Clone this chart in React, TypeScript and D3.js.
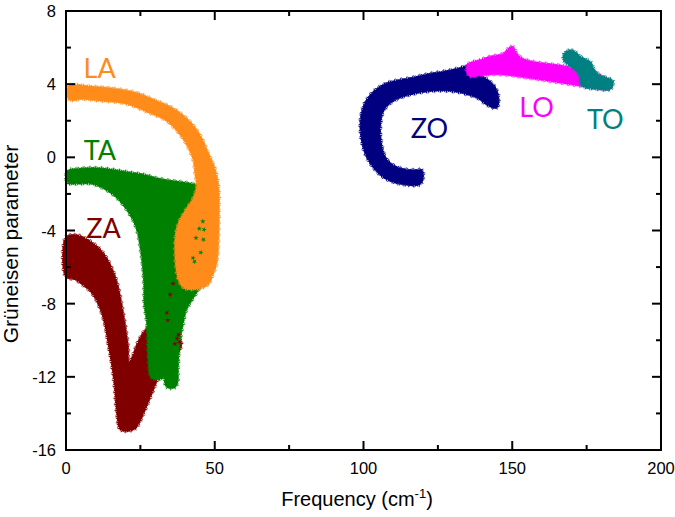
import React, { useEffect, useRef } from "react";
import * as d3 from "d3";

type P = [number, number];

// Branch outlines: [frequency (cm^-1), Grüneisen parameter]
const zaBranch: P[] = [
  [0.3, -4.4], [3, -4.3], [4.7, -4.36], [7.5, -4.6], [10.4, -4.95], [12.8, -5.4], [14.8, -6.0],
  [16.5, -6.7], [17.8, -7.6], [18.8, -8.5], [19.8, -9.5], [20.5, -10.4], [20.8, -11.3], [21.8, -11.2],
  [24.9, -10.0], [27.6, -9.4], [30, -9.4], [34, -9.7], [37, -9.8], [38.4, -10.1], [37.5, -10.6],
  [35, -10.7], [32, -11.3], [30.6, -12.0], [27.2, -13.4], [23.5, -14.7], [22.2, -14.85], [18.6, -14.85],
  [17.5, -14.0], [16.5, -12.2], [14.8, -10.4], [12.4, -8.5], [9.1, -7.4], [5.7, -6.9], [3, -6.6], [0.3, -6.5],
];
const taBranch: P[] = [
  [0.7, -0.8], [3.7, -0.69], [11.4, -0.65], [20.5, -0.86], [26, -1.0], [31.6, -1.24], [38.3, -1.4],
  [42, -1.5], [46, -1.68], [47, -3], [47, -6], [46, -6.7], [44, -7.25], [41.5, -7.9], [40, -8.35],
  [39, -9.06], [37.9, -10.0], [37.6, -10.4], [37.3, -11.46], [36.6, -12.5], [34, -12.5], [33.3, -11.6],
  [32.6, -12.0], [29, -12.0], [28.2, -11.25], [27.6, -9.06], [26.7, -8.0], [26.6, -6.9], [25.5, -5.07],
  [23.9, -3.8], [20.5, -2.77], [15.8, -1.95], [9.1, -1.4], [4, -1.38], [0.7, -1.35],
];
const laBranch: P[] = [
  [1.3, 3.85], [8, 3.82], [16, 3.7], [24, 3.45], [30, 3.05], [35, 2.7], [38.3, 2.35], [42, 1.8],
  [45, 1.1], [47.5, 0.2], [49.4, -0.5], [50.6, -1.3], [51, -2.0], [51, -3.0], [50.8, -4.7],
  [50.2, -5.8], [49.2, -6.3], [47.5, -6.9], [45, -7.1], [40, -7.1], [38.3, -6.7], [37.4, -6.0],
  [37.1, -5.2], [37.3, -4.2], [38.5, -3.5], [40.7, -2.88], [43, -2.3], [44.3, -1.6], [43.8, -0.9],
  [43.2, -0.15], [41, 0.7], [38.3, 1.35], [34, 2.05], [28, 2.5], [20, 3.0], [12, 3.15], [5, 3.25], [1.3, 3.2],
];
const zoBranch: P[] = [
  [119, -1.4], [114.6, -1.45], [108, -1.15], [104, -0.6], [101, 0.2], [99.5, 1.2], [99.5, 2.2],
  [101, 3.0], [104, 3.6], [108, 4.0], [116.6, 4.3], [122, 4.5], [128, 4.66], [133, 4.85], [136, 5.0],
  [137.8, 4.95], [137.5, 4.55], [140, 4.35], [143.5, 3.9], [145, 3.3], [144.5, 2.75], [141, 3.0],
  [139.2, 3.24], [133.4, 3.57], [128, 3.7], [122.4, 3.68], [116, 3.5], [110, 3.15], [106.5, 2.6],
  [105.3, 1.7], [105.8, 0.6], [107.3, -0.1], [110, -0.5], [114, -0.72], [118, -0.75], [119.5, -0.75],
];
const loBranch: P[] = [
  [135.1, 5.0], [140, 5.3], [142.5, 5.45], [147, 5.6], [149.9, 6.0], [151, 5.7], [152.6, 5.4],
  [156, 5.2], [162, 5.05], [167, 4.94], [173.8, 4.66], [181.8, 4.23], [182.9, 3.8], [173.8, 3.95],
  [167, 4.12], [156, 4.39], [149, 4.55], [144.9, 4.6], [139, 4.55], [135.8, 4.5],
];
const toBranch: P[] = [
  [167.5, 5.55], [168.4, 5.75], [170.1, 5.8], [172.8, 5.45], [176.1, 5.15], [177.1, 4.8], [179.5, 4.4],
  [183.5, 4.15], [182.9, 3.8], [178.5, 3.8], [173.8, 3.95], [172.8, 4.6], [170.4, 4.95], [167.7, 5.3],
];

// isolated points showing through overlapping branches
const taSpecksFreq = [46.0, 46.4, 46.2, 43.7, 42.7, 43.2, 44.8, 45.3];
const taSpecksGamma = [-3.5, -3.95, -4.5, -4.4, -5.5, -5.7, -3.9, -5.2];
const zaSpecksFreq = [36.0, 35.0, 33.9, 34.2, 37.3, 38.1, 36.6, 37.8];
const zaSpecksGamma = [-6.9, -7.5, -8.5, -8.9, -9.9, -10.1, -10.2, -9.7];

const branchNames = ["ZA", "TA", "LA", "ZO", "LO", "TO"];
const branchData = [zaBranch, taBranch, laBranch, zoBranch, loBranch, toBranch];
const branchColors = ["#800000", "#008000", "#ff8c1a", "#000080", "#ff00ff", "#008080"];
// label anchors in data space (freq, gamma at baseline)
const labelFreq = [12.6, 11.4, 11.3, 122.2, 158.2, 181.3];
const labelGamma = [-4.4, -0.15, 4.35, 1.06, 2.2, 1.55];

const xTicks = [0, 50, 100, 150, 200];
const xMinor = [25, 75, 125, 175];
const yTicks = [-16, -12, -8, -4, 0, 4, 8];
const yMinor = [-14, -10, -6, -2, 2, 6];

const W = 675, H = 517;
const M = { left: 66, right: 661, top: 11, bottom: 450 };

export default function App() {
  const ref = useRef<SVGSVGElement>(null);
  useEffect(() => {
    const svg = d3.select(ref.current);
    svg.selectAll("*").remove();
    const x = d3.scaleLinear().domain([0, 200]).range([M.left, M.right]);
    const y = d3.scaleLinear().domain([-16, 8]).range([M.bottom, M.top]);
    const line = d3.line<P>().x(d => x(d[0])).y(d => y(d[1])).curve(d3.curveCatmullRomClosed.alpha(0.5));
    const star = d3.symbol().type(d3.symbolStar).size(16)();
    const speckStar = d3.symbol().type(d3.symbolStar).size(9)();

    const g = svg.append("g");
    const specks = (fs: number[], gs: number[], col: string) => {
      fs.forEach((f, k) => {
        g.append("path").attr("d", speckStar).attr("fill", col)
          .attr("transform", `translate(${x(f)},${y(gs[k])}) rotate(${k * 23})`);
      });
    };
    branchData.forEach((pts, i) => {
      const col = branchColors[i];
      const p = g.append("path").attr("d", line(pts)).attr("fill", col).attr("stroke", col).attr("stroke-width", 1.5);
      const node = p.node() as SVGPathElement;
      const L = node.getTotalLength();
      const n = Math.floor(L / 3);
      for (let k = 0; k < n; k++) {
        const pt = node.getPointAtLength((k * L) / n);
        g.append("path").attr("d", star).attr("fill", col)
          .attr("transform", `translate(${pt.x},${pt.y}) rotate(${(k * 37) % 72})`);
      }
      if (branchNames[i] === "TA") specks(zaSpecksFreq, zaSpecksGamma, branchColors[0]);
      if (branchNames[i] === "LA") specks(taSpecksFreq, taSpecksGamma, branchColors[1]);
    });

    // labels
    branchNames.forEach((name, i) => {
      svg.append("text").text(name).attr("x", x(labelFreq[i])).attr("y", y(labelGamma[i]))
        .attr("fill", branchColors[i]).attr("font-family", "Lato, 'Open Sans', sans-serif")
        .attr("font-size", 27).attr("text-anchor", "middle");
    });

    // frame
    svg.append("rect").attr("x", M.left).attr("y", M.top).attr("width", M.right - M.left)
      .attr("height", M.bottom - M.top).attr("fill", "none").attr("stroke", "#000").attr("stroke-width", 2);

    const tk = svg.append("g").attr("stroke", "#000").attr("stroke-width", 2);
    const xt = (v: number, len: number) => {
      tk.append("line").attr("x1", x(v)).attr("x2", x(v)).attr("y1", M.bottom).attr("y2", M.bottom - len);
      tk.append("line").attr("x1", x(v)).attr("x2", x(v)).attr("y1", M.top).attr("y2", M.top + len);
    };
    const yt = (v: number, len: number) => {
      tk.append("line").attr("y1", y(v)).attr("y2", y(v)).attr("x1", M.left).attr("x2", M.left + len);
      tk.append("line").attr("y1", y(v)).attr("y2", y(v)).attr("x1", M.right).attr("x2", M.right - len);
    };
    xTicks.forEach(v => xt(v, 9));
    xMinor.forEach(v => xt(v, 5));
    yTicks.forEach(v => yt(v, 9));
    yMinor.forEach(v => yt(v, 5));

    const font = "Arial, 'Liberation Sans', Helvetica, sans-serif";
    xTicks.forEach(v => {
      svg.append("text").text(String(v)).attr("x", x(v)).attr("y", 474)
        .attr("text-anchor", "middle").attr("font-family", font).attr("font-size", 16.5);
    });
    yTicks.forEach(v => {
      svg.append("text").text(String(v)).attr("x", 56).attr("y", y(v) + 6)
        .attr("text-anchor", "end").attr("font-family", font).attr("font-size", 16.5);
    });

    const xl = svg.append("text").attr("x", 357).attr("y", 506).attr("text-anchor", "middle")
      .attr("font-family", font).attr("font-size", 20);
    xl.append("tspan").text("Frequency (cm");
    xl.append("tspan").text("-1").attr("font-size", 13).attr("dy", -8);
    xl.append("tspan").text(")").attr("dy", 8);

    svg.append("text").text("Grüneisen parameter").attr("transform", "translate(18,244) rotate(-90)")
      .attr("text-anchor", "middle").attr("font-family", font).attr("font-size", 21);
  }, []);
  return (
    <svg ref={ref} width={W} height={H} style={{ position: "absolute", left: 0, top: 0, background: "#fff" }} />
  );
}
